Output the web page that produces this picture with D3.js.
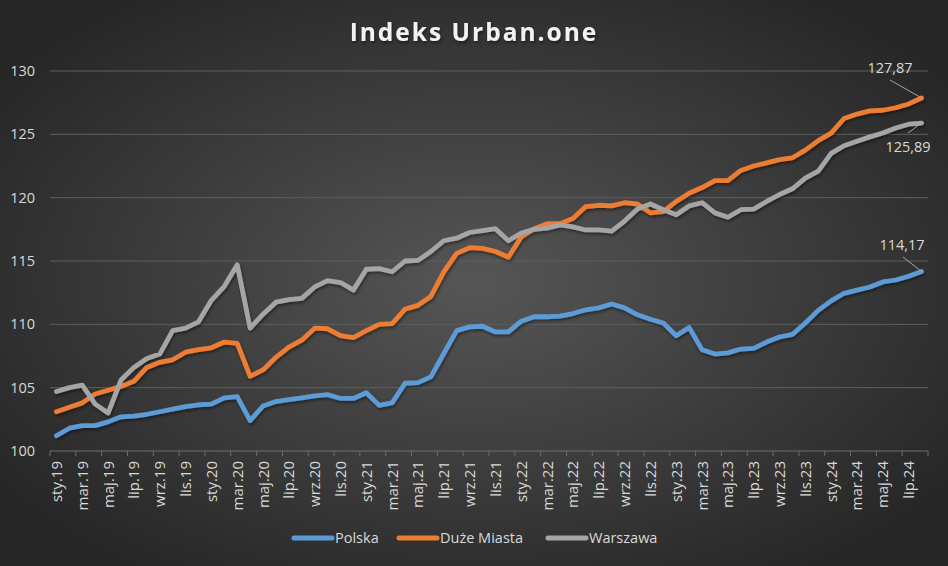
<!DOCTYPE html>
<html>
<head>
<meta charset="utf-8">
<script src="https://cdn.jsdelivr.net/npm/d3@7"></script>
<style>
  html, body { margin: 0; padding: 0; background: #333; }
  svg { display: block; }
</style>
</head>
<body>
<script>
//Month names used on the x axis (Polish short forms)
var monthNames = ["sty", "lut", "mar", "kwi", "maj", "cze", "lip", "sie", "wrz", "paź", "lis", "gru"];

//Categories: every month from sty.19 to sie.24
var months = [];
for (var yr = 19; yr <= 24; yr++) {
    for (var m = 0; m < 12; m++) {
        if (yr === 24 && m > 7) break;
        months.push(monthNames[m] + "." + yr);
    }
}

//Series values
var polska = [101.2, 101.8, 102.0, 102.0, 102.3, 102.7, 102.75, 102.9, 103.1, 103.3, 103.5, 103.65,
    103.7, 104.2, 104.3, 102.4, 103.55, 103.9, 104.05, 104.2, 104.35, 104.45, 104.15, 104.15,
    104.6, 103.6, 103.8, 105.35, 105.4, 105.85, 107.7, 109.5, 109.8, 109.85, 109.4, 109.4,
    110.25, 110.6, 110.6, 110.65, 110.85, 111.15, 111.3, 111.6, 111.3, 110.75, 110.4, 110.1,
    109.1, 109.75, 108.0, 107.65, 107.75, 108.05, 108.1, 108.6, 109.0, 109.2, 110.1, 111.1,
    111.85, 112.45, 112.7, 112.95, 113.35, 113.5, 113.8, 114.17];

var duzeMiasta = [103.1, 103.45, 103.8, 104.5, 104.8, 105.1, 105.5, 106.6, 107.0, 107.2, 107.8, 108.0,
    108.15, 108.6, 108.5, 105.9, 106.4, 107.4, 108.2, 108.75, 109.7, 109.65, 109.1, 108.95,
    109.5, 110.0, 110.05, 111.2, 111.5, 112.2, 114.15, 115.6, 116.05, 116.0, 115.75, 115.3,
    116.9, 117.55, 117.95, 117.95, 118.35, 119.3, 119.4, 119.35, 119.6, 119.5, 118.8, 118.9,
    119.7, 120.35, 120.8, 121.35, 121.35, 122.15, 122.5, 122.75, 123.0, 123.15, 123.75, 124.5,
    125.1, 126.25, 126.6, 126.85, 126.9, 127.1, 127.4, 127.87];

var warszawa = [104.7, 105.0, 105.2, 103.7, 103.0, 105.6, 106.6, 107.3, 107.65, 109.5, 109.7, 110.2,
    111.9, 113.0, 114.7, 109.7, 110.8, 111.75, 111.95, 112.05, 112.95, 113.45, 113.3, 112.7,
    114.35, 114.4, 114.15, 115.0, 115.05, 115.75, 116.6, 116.8, 117.25, 117.4, 117.55, 116.6,
    117.2, 117.5, 117.6, 117.85, 117.7, 117.45, 117.45, 117.35, 118.15, 119.1, 119.5, 119.05,
    118.65, 119.35, 119.6, 118.8, 118.45, 119.05, 119.1, 119.7, 120.25, 120.7, 121.55, 122.1,
    123.5, 124.1, 124.45, 124.8, 125.1, 125.5, 125.8, 125.89];

//Y axis ticks
var yTicks = [100, 105, 110, 115, 120, 125, 130];

var seriesNames = ["Polska", "Duże Miasta", "Warszawa"];
var seriesColors = ["#5b9bd5", "#ed7d31", "#a5a5a5"];
var seriesData = [polska, duzeMiasta, warszawa];

//Dimensions
var width = 948, height = 566;
var margin = {top: 71, right: 20, bottom: 115, left: 50};
var plotRight = 928;

//Create the svg
const svg = d3.select("body")
    .append("svg")
    .attr("width", width)
    .attr("height", height);

const defs = svg.append("defs");

//Dark radial background
const grad = defs.append("radialGradient")
    .attr("id", "bg")
    .attr("cx", "50%").attr("cy", "50%").attr("r", "62%");
grad.append("stop").attr("offset", "0%").attr("stop-color", "#565656");
grad.append("stop").attr("offset", "100%").attr("stop-color", "#262626");

//Soft shadow under the lines and title
const shadow = defs.append("filter").attr("id", "shadow")
    .attr("x", "-5%").attr("y", "-5%").attr("width", "110%").attr("height", "120%");
shadow.append("feDropShadow")
    .attr("dx", 1).attr("dy", 2).attr("stdDeviation", 1.5)
    .attr("flood-color", "#000").attr("flood-opacity", 0.45);

svg.append("rect")
    .attr("width", width).attr("height", height)
    .attr("fill", "url(#bg)");

//Scales
const x = d3.scaleBand()
    .domain(months)
    .range([margin.left, plotRight]);

const y = d3.scaleLinear()
    .domain([100, 130])
    .range([451, 71]);

const cx = d => x(d) + x.bandwidth() / 2;

//Gridlines
svg.append("g")
    .selectAll("line")
    .data(yTicks.slice(1))
    .join("line")
    .attr("x1", margin.left).attr("x2", plotRight)
    .attr("y1", d => y(d)).attr("y2", d => y(d))
    .attr("stroke", "#5e5e5e")
    .attr("stroke-width", 1);

//Y axis labels
const yAxis = svg.append("g")
    .attr("transform", `translate(${margin.left},0)`)
    .call(d3.axisLeft(y).tickValues(yTicks).tickSize(0).tickPadding(15));
yAxis.select(".domain").remove();
yAxis.selectAll("text")
    .attr("fill", "#d9d9d9")
    .style("font-family", "'Open Sans', sans-serif")
    .style("font-size", "14.5px");

//X axis line and ticks every two months
const xAxisG = svg.append("g");
xAxisG.append("line")
    .attr("x1", margin.left).attr("x2", plotRight)
    .attr("y1", y(100)).attr("y2", y(100))
    .attr("stroke", "#6e6e6e").attr("stroke-width", 1);
xAxisG.selectAll("line.tick")
    .data(months.filter((d, i) => i % 2 === 0).concat([null]))
    .join("line")
    .attr("class", "tick")
    .attr("x1", (d, i) => d === null ? plotRight : x(d))
    .attr("x2", (d, i) => d === null ? plotRight : x(d))
    .attr("y1", y(100)).attr("y2", y(100) + 5)
    .attr("stroke", "#6e6e6e").attr("stroke-width", 1);

//X axis labels, rotated
xAxisG.selectAll("text")
    .data(months.filter((d, i) => i % 2 === 0))
    .join("text")
    .attr("transform", d => `translate(${cx(d) + 5.5},${y(100) + 10}) rotate(-90)`)
    .attr("text-anchor", "end")
    .attr("fill", "#d9d9d9")
    .style("font-family", "'Open Sans', sans-serif")
    .style("font-size", "15px")
    .text(d => d);

//Lines
const line = d3.line()
    .x((d, i) => cx(months[i]))
    .y(d => y(d));

svg.append("g")
    .attr("filter", "url(#shadow)")
    .selectAll("path")
    .data(seriesData)
    .join("path")
    .attr("fill", "none")
    .attr("stroke", (d, i) => seriesColors[i])
    .attr("stroke-width", 4.8)
    .attr("stroke-linejoin", "round")
    .attr("stroke-linecap", "round")
    .attr("d", line);

//Data labels for the last points
var last = months.length - 1;
var labels = [
    {v: duzeMiasta[last], tx: 890, ty: 73, lx: 890, ly: 80},
    {v: warszawa[last], tx: 908, ty: 152, lx: 908, ly: 133},
    {v: polska[last], tx: 902, ty: 250, lx: 903, ly: 257}
];
const fmt = v => v.toFixed(2).replace(".", ",");
const lab = svg.append("g");
lab.selectAll("line")
    .data(labels)
    .join("line")
    .attr("x1", d => d.lx).attr("y1", d => d.ly)
    .attr("x2", cx(months[last])).attr("y2", d => y(d.v))
    .attr("stroke", "#a6a6a6").attr("stroke-width", 1);
lab.selectAll("text")
    .data(labels)
    .join("text")
    .attr("x", d => d.tx).attr("y", d => d.ty)
    .attr("text-anchor", "middle")
    .attr("fill", "#d9d9d9")
    .style("font-family", "'Open Sans', sans-serif")
    .style("font-size", "14.5px")
    .text(d => fmt(d.v));

//Title
svg.append("text")
    .attr("x", 474).attr("y", 41)
    .attr("text-anchor", "middle")
    .attr("fill", "#f2f2f2")
    .attr("filter", "url(#shadow)")
    .style("font-family", "'Open Sans', sans-serif")
    .style("font-weight", "bold")
    .style("font-size", "24.5px")
    .style("letter-spacing", "2px")
    .text("Indeks Urban.one");

//Legend
var legendX = [294, 399, 548];
const legend = svg.append("g");
const items = legend.selectAll("g")
    .data(seriesNames)
    .join("g")
    .attr("transform", (d, i) => `translate(${legendX[i]},538)`);
items.append("line")
    .attr("x1", 0).attr("x2", 38)
    .attr("stroke", (d, i) => seriesColors[i])
    .attr("stroke-width", 5)
    .attr("stroke-linecap", "round");
items.append("text")
    .attr("x", 41).attr("y", 5)
    .attr("fill", "#d9d9d9")
    .style("font-family", "'Open Sans', sans-serif")
    .style("font-size", "14.5px")
    .text(d => d);
</script>
</body>
</html>
